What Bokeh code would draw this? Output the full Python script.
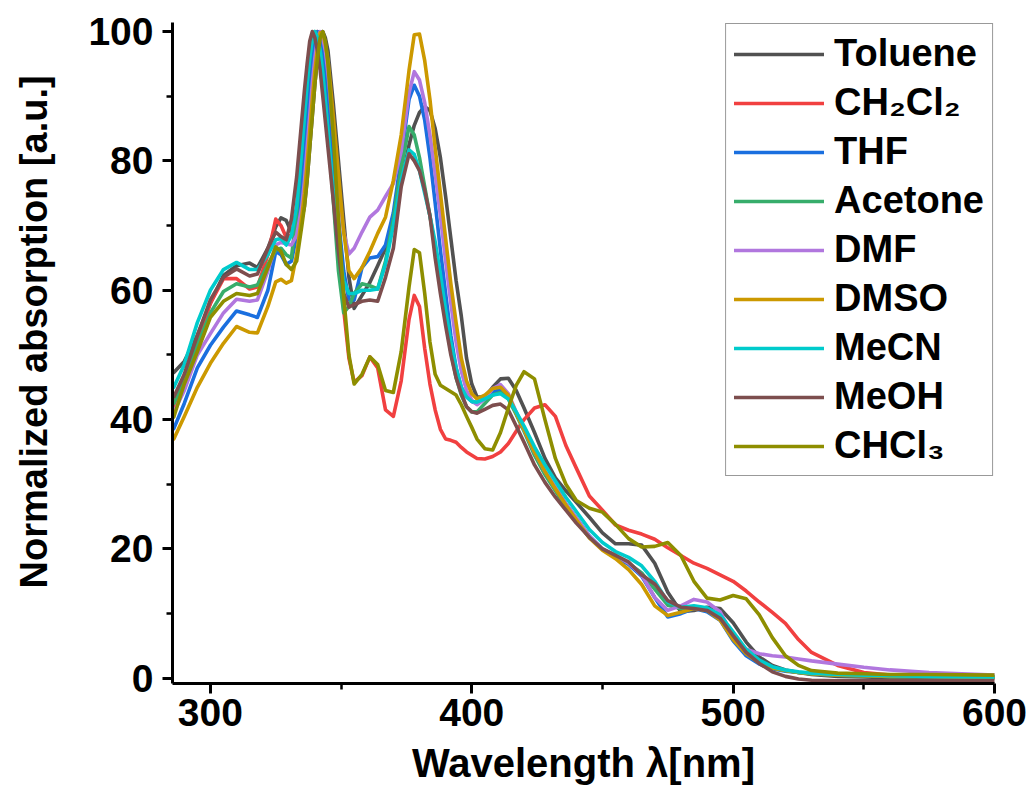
from bokeh.plotting import figure
from bokeh.models import Range1d, FixedTicker, Legend, LegendItem, ColumnDataSource
from bokeh.embed import file_html
from bokeh.resources import INLINE

# ---------------- data ----------------
wavelength = [286, 290, 295, 300, 305, 310, 315, 318, 322, 325,
              327, 329, 331, 333, 335, 336, 337, 338, 339, 340,
              341, 342, 343, 344, 345, 347, 349, 351, 353, 355,
              358, 361, 364, 367, 370, 373, 376, 378, 380, 382,
              384, 386, 388, 390, 392, 394, 396, 398, 400, 402,
              405, 408, 411, 414, 417, 420, 424, 428, 432, 436,
              440, 445, 450, 455, 460, 465, 470, 475, 480, 485,
              490, 495, 500, 505, 510, 515, 520, 525, 530, 540,
              550, 560, 575, 600]

toluene = [47.3, 49.0, 53.0, 58.0, 62.3, 63.8, 64.2, 63.5, 66.5, 69.8,
           71.2, 70.8, 69.0, 69.2, 71.0, 73.0, 77.0, 82.0, 87.0, 92.0,
           96.0, 99.0, 100.0, 99.0, 97.0, 89.0, 80.0, 71.0, 62.0, 57.2,
           59.2, 61.2, 63.8, 66.5, 70.5, 76.5, 82.5, 85.5, 87.5, 88.4,
           87.8, 85.0, 80.5, 74.5, 68.0, 61.5, 56.0, 49.5, 45.5, 43.5,
           43.5, 45.0, 46.3, 46.4, 44.5, 41.8, 38.0, 34.0, 31.0, 29.0,
           27.2, 24.9, 22.5, 20.8, 20.8, 20.6, 17.8, 13.3, 10.3, 10.5,
           11.0, 10.8, 8.6, 5.6, 3.3, 2.0, 1.3, 0.9, 0.6, 0.3,
           0.2, 0.1, 0.1, 0.1]

ch2cl2 = [41.9, 46.0, 51.8, 58.0, 61.8, 61.8, 60.2, 60.5, 65.5, 71.0,
          70.0, 68.2, 68.5, 71.0, 77.0, 82.0, 87.0, 92.0, 96.0, 99.0,
          100.0, 99.0, 96.5, 93.0, 88.5, 78.0, 67.0, 57.0, 49.5, 45.8,
          46.8, 49.7, 48.0, 41.5, 40.5, 46.0, 55.5, 59.2, 57.5, 51.0,
          45.5, 41.5, 38.5, 37.0, 36.8, 36.5, 35.7, 35.0, 34.5, 34.0,
          33.9, 34.3, 35.0, 36.3, 38.2, 40.0, 41.8, 42.3, 40.5, 36.0,
          32.5, 28.2, 26.0, 23.7, 22.9, 22.3, 21.5, 20.2, 19.0, 17.8,
          17.0, 16.0, 15.0, 13.5, 11.8, 10.2, 8.5, 6.0, 4.0, 2.0,
          0.9, 0.5, 0.3, 0.1]

thf = [38.6, 42.5, 48.0, 51.5, 54.3, 56.8, 56.2, 55.8, 60.0, 66.0,
       65.5, 64.0, 64.5, 68.5, 77.0, 82.0, 87.0, 92.0, 96.0, 99.0,
       100.0, 99.0, 97.0, 93.5, 89.0, 80.0, 71.0, 63.0, 58.5, 58.5,
       63.5, 65.0, 65.2, 67.0, 72.0, 80.5, 89.5, 91.7, 90.0, 86.3,
       80.5, 73.5, 66.2, 59.5, 53.0, 48.0, 45.0, 43.5, 42.8, 42.5,
       43.2, 44.3, 44.6, 43.5, 41.0, 38.5, 35.0, 32.0, 29.5, 27.0,
       24.8, 22.0, 20.0, 18.8, 17.6, 15.8, 12.5, 9.5, 10.0, 10.8,
       10.3, 9.0, 5.8, 3.5, 2.2, 1.5, 1.1, 0.9, 0.7, 0.5,
       0.4, 0.3, 0.3, 0.2]

acetone = [42.5, 46.0, 51.5, 56.5, 59.8, 61.0, 60.5, 60.8, 64.0, 66.2,
           66.5, 65.5, 65.0, 72.0, 82.0, 87.0, 92.0, 96.0, 99.0, 100.0,
           99.0, 97.0, 93.5, 89.0, 84.5, 74.0, 63.0, 56.5, 57.5, 59.5,
           61.0, 60.7, 60.2, 64.5, 71.0, 79.0, 85.3, 84.0, 80.5, 76.0,
           71.5, 66.5, 61.0, 55.5, 50.5, 46.5, 43.8, 42.0, 41.2, 41.2,
           42.5, 43.8, 44.2, 43.2, 40.8, 38.2, 34.5, 31.5, 29.0, 26.5,
           24.3, 21.8, 20.0, 19.0, 17.8, 16.3, 13.8, 11.3, 10.8, 10.9,
           10.5, 9.2, 6.5, 3.9, 2.4, 1.6, 1.2, 0.9, 0.7, 0.5,
           0.4, 0.3, 0.3, 0.2]

dmf = [41.1, 44.5, 50.0, 53.3, 56.5, 58.6, 58.3, 58.5, 63.0, 67.0,
       67.4, 67.2, 67.0, 68.5, 73.0, 77.0, 82.0, 87.0, 92.0, 96.0,
       99.0, 100.0, 99.0, 97.0, 93.5, 84.5, 76.0, 69.0, 65.6, 66.5,
       69.0, 71.3, 72.4, 74.5, 76.5, 81.5, 90.5, 93.8, 92.5, 89.0,
       84.0, 78.0, 71.5, 64.5, 58.0, 52.0, 47.5, 44.5, 43.0, 42.3,
       43.2, 44.8, 45.4, 44.0, 41.2, 38.5, 35.0, 32.0, 29.5, 27.0,
       24.8, 22.0, 20.0, 19.0, 17.8, 16.0, 12.5, 10.5, 11.2, 12.2,
       11.8, 10.3, 6.5, 4.5, 3.8, 3.5, 3.3, 3.0, 2.7, 2.2,
       1.7, 1.3, 0.9, 0.5]

dmso = [37.0, 40.5, 45.0, 48.7, 51.8, 54.4, 53.5, 53.4, 57.5, 61.3,
        61.7, 61.1, 61.5, 65.5, 71.5, 75.0, 79.5, 84.5, 89.5, 94.0,
        97.5, 99.8, 99.8, 98.0, 95.5, 87.0, 78.0, 69.0, 63.0, 61.8,
        63.5, 66.0, 68.8, 71.3, 77.0, 84.0, 94.0, 99.5, 99.6, 95.5,
        89.5, 82.0, 75.0, 68.0, 61.0, 55.0, 49.5, 46.0, 44.0, 43.2,
        43.8, 44.8, 45.0, 43.8, 41.0, 38.5, 35.0, 32.0, 29.3, 26.8,
        24.5, 21.7, 19.8, 18.5, 16.8, 14.5, 11.2, 9.7, 10.2, 10.8,
        10.5, 9.0, 6.0, 3.8, 2.4, 1.6, 1.2, 0.9, 0.7, 0.5,
        0.4, 0.3, 0.3, 0.2]

mecn = [45.0, 48.5, 55.0, 60.0, 63.2, 64.3, 63.2, 63.2, 65.5, 67.8,
        68.0, 67.0, 68.5, 73.0, 82.0, 87.0, 92.0, 96.0, 99.0, 100.0,
        99.0, 97.0, 93.5, 89.0, 84.5, 75.5, 67.0, 61.5, 59.5, 59.5,
        60.0, 60.0, 60.2, 64.0, 70.0, 77.0, 81.7, 81.0, 78.5, 75.0,
        71.5, 67.5, 62.5, 57.0, 52.0, 48.0, 45.0, 43.5, 42.8, 42.7,
        43.2, 43.8, 44.0, 43.2, 41.2, 39.0, 35.8, 33.0, 30.5, 28.0,
        25.8, 23.0, 21.0, 19.6, 18.7, 17.4, 15.0, 11.8, 11.0, 11.2,
        10.9, 9.8, 7.2, 4.5, 2.8, 1.8, 1.3, 1.0, 0.8, 0.6,
        0.5, 0.4, 0.3, 0.2]

meoh = [43.5, 47.0, 53.0, 58.5, 62.0, 63.3, 62.2, 62.5, 66.5, 69.0,
        68.3, 67.8, 71.0, 77.5, 86.5, 91.0, 95.0, 98.5, 100.0, 99.0,
        97.0, 94.0, 90.0, 86.0, 82.0, 74.0, 66.0, 59.5, 57.4, 57.8,
        58.3, 58.5, 58.3, 62.0, 66.5, 76.0, 81.1, 80.0, 78.5, 75.5,
        71.5, 65.0, 59.5, 54.5, 50.0, 46.5, 44.0, 42.0, 41.2, 41.0,
        41.6, 42.2, 42.4, 41.5, 39.0, 36.5, 33.0, 30.3, 28.0, 26.0,
        24.0, 21.8, 20.0, 19.0, 18.0, 16.0, 14.6, 12.0, 11.0, 10.8,
        10.5, 9.3, 6.6, 4.0, 2.3, 1.0, 0.3, -0.1, -0.3, -0.4,
        -0.4, -0.4, -0.4, -0.4]

chcl3 = [40.4, 45.5, 50.5, 55.8, 58.3, 59.5, 59.2, 59.5, 63.5, 66.7,
         66.0, 64.0, 63.2, 64.5, 70.0, 73.0, 77.0, 82.0, 87.0, 92.0,
         96.0, 99.0, 100.0, 98.5, 95.0, 84.0, 71.0, 59.0, 50.0, 45.5,
         47.0, 49.7, 48.5, 44.5, 44.2, 50.5, 60.5, 66.3, 65.8, 59.5,
         52.0, 47.0, 45.3, 44.8, 44.3, 43.8, 42.3, 40.5, 38.8, 37.0,
         35.5, 35.3, 38.0, 41.8, 45.3, 47.4, 46.3, 40.0, 34.0, 30.0,
         27.5, 26.3, 25.7, 23.8, 21.6, 20.3, 20.4, 21.0, 19.0, 15.0,
         12.4, 12.1, 12.8, 12.3, 9.8, 6.3, 3.5, 2.0, 1.2, 0.8,
         0.7, 0.6, 0.6, 0.5]

solvent_labels = ["Toluene", "CH\u2082Cl\u2082", "THF", "Acetone", "DMF",
                  "DMSO", "MeCN", "MeOH", "CHCl\u2083"]
solvent_series = [toluene, ch2cl2, thf, acetone, dmf, dmso, mecn, meoh, chcl3]
solvent_colors = ["#515151", "#F14040", "#1A6FDF", "#37AD6B", "#B177DE",
                  "#CC9900", "#00CBCC", "#7D4E4E", "#8E8E00"]

x_ticks = [300, 400, 500, 600]
x_minor = [350, 450, 550]
y_ticks = [0, 20, 40, 60, 80, 100]
y_minor = [10, 30, 50, 70, 90]

# ---------------- figure ----------------
FONT = "Liberation Sans"

p = figure(width=1027, height=805, output_backend="svg", toolbar_location=None,
           x_range=Range1d(285.5, 600), y_range=Range1d(-0.8, 101.4),
           min_border_left=172, min_border_right=33,
           min_border_top=22, min_border_bottom=122)
p.xgrid.visible = False
p.ygrid.visible = False
p.outline_line_color = None
p.background_fill_color = "white"
p.border_fill_color = "white"

items = []
for label, series, color in zip(solvent_labels, solvent_series, solvent_colors):
    src = ColumnDataSource(data=dict(x=wavelength, y=series))
    r = p.line("x", "y", source=src, line_color=color, line_width=3.6,
               line_join="round", line_cap="round")
    items.append(LegendItem(label=label, renderers=[r]))

xa = p.xaxis[0]
ya = p.yaxis[0]
xa.ticker = FixedTicker(ticks=x_ticks, minor_ticks=x_minor)
ya.ticker = FixedTicker(ticks=y_ticks, minor_ticks=y_minor)
xa.axis_label = "Wavelength \u03bb[nm]"
# leading no-break spaces move the visible title slightly upward, as in the reference
ya.axis_label = "\u00a0\u00a0\u00a0\u00a0Normalized absorption [a.u.]"

for ax in (xa, ya):
    ax.axis_line_width = 3
    ax.axis_line_color = "black"
    ax.major_tick_line_width = 3
    ax.minor_tick_line_width = 2.5
    ax.major_tick_in = 0
    ax.major_tick_out = 10
    ax.minor_tick_in = 0
    ax.minor_tick_out = 6
    ax.major_label_text_font = FONT
    ax.major_label_text_font_style = "bold"
    ax.major_label_text_font_size = "39px"
    ax.major_label_text_color = "black"
    ax.axis_label_text_font = FONT
    ax.axis_label_text_font_style = "bold"
    ax.axis_label_text_color = "black"

xa.axis_label_text_font_size = "40px"
ya.axis_label_text_font_size = "38px"
xa.major_label_standoff = 5
xa.axis_label_standoff = 12
ya.major_label_standoff = 9
ya.axis_label_standoff = 30

legend = Legend(items=items, location="top_right")
legend.margin = 1
legend.padding = 8
legend.spacing = 6
legend.glyph_width = 90
legend.glyph_height = 38
legend.label_height = 38
legend.label_standoff = 10
legend.label_text_font = FONT
legend.label_text_font_style = "bold"
legend.label_text_font_size = "38px"
legend.label_text_color = "black"
legend.border_line_color = "#333333"
legend.border_line_width = 1.5
legend.background_fill_color = "white"
legend.background_fill_alpha = 1.0
p.add_layout(legend, "center")

open("out.html", "w").write(file_html(p, INLINE))
